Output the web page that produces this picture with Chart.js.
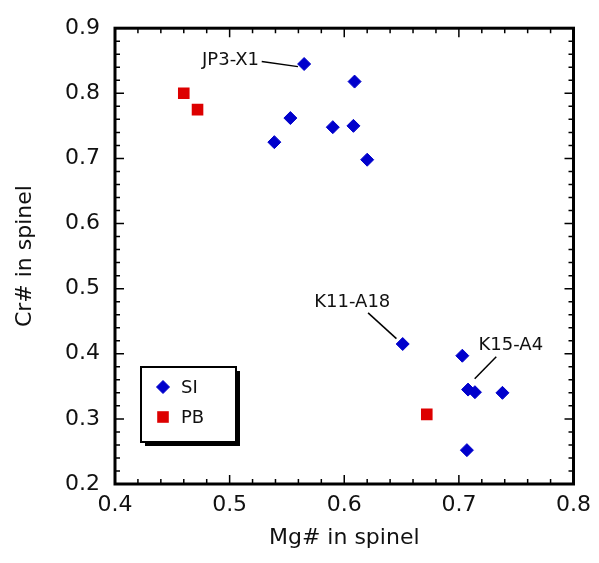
<!DOCTYPE html>
<html>
<head>
<meta charset="utf-8">
<script src="https://cdn.jsdelivr.net/npm/chart.js@4.4.1/dist/chart.umd.min.js"></script>
<style>
    html, body { margin: 0; padding: 0; background: #fff; }
    #contenedor { width: 599px; height: 563px; }
</style>
</head>
<body>
<div id="contenedor"><canvas id="grafico"></canvas></div>
<script>
// Datos: Mg# y Cr# en espinela
const siMg = [0.565, 0.609, 0.553, 0.539, 0.590, 0.608, 0.620, 0.651, 0.703, 0.708, 0.714, 0.738, 0.707];
const siCr = [0.845, 0.818, 0.762, 0.725, 0.748, 0.750, 0.698, 0.415, 0.397, 0.345, 0.341, 0.340, 0.252];
const pbMg = [0.460, 0.472, 0.672];
const pbCr = [0.800, 0.775, 0.307];

const nombresSeries = ['SI', 'PB'];
const tickX = [0.4, 0.5, 0.6, 0.7, 0.8];
const tickY = [0.2, 0.3, 0.4, 0.5, 0.6, 0.7, 0.8, 0.9];

// Etiquetas de muestras (posicion del texto y linea guia, en unidades de datos)
const etiquetas = ['JP3-X1', 'K11-A18', 'K15-A4'];
const etiquetaX = [0.5008, 0.607, 0.7453];
const etiquetaY = [0.8503, 0.479, 0.4122];
const lineaX1 = [0.528, 0.6208, 0.7326];
const lineaY1 = [0.849, 0.4628, 0.3955];
const lineaX2 = [0.5596, 0.6455, 0.7138];
const lineaY2 = [0.841, 0.4233, 0.3616];

const AZUL = '#0000cc';
const ROJO = '#dd0000';
const FUENTE = "'DejaVu Sans', Verdana, sans-serif";

// Marco, marcas interiores, etiquetas y leyenda
const marcoPlugin = {
    id: 'marco',
    afterDatasetsDraw(chart) {
        const ctx = chart.ctx;
        const sx = chart.scales.x;
        const sy = chart.scales.y;
        const area = chart.chartArea;

        ctx.save();
        // Etiquetas con lineas guia
        ctx.strokeStyle = '#000';
        ctx.lineWidth = 1.5;
        ctx.fillStyle = '#111';
        ctx.font = '18px ' + FUENTE;
        ctx.textAlign = 'center';
        ctx.textBaseline = 'middle';
        for (let i = 0; i < etiquetas.length; i++) {
            ctx.beginPath();
            ctx.moveTo(sx.getPixelForValue(lineaX1[i]), sy.getPixelForValue(lineaY1[i]));
            ctx.lineTo(sx.getPixelForValue(lineaX2[i]), sy.getPixelForValue(lineaY2[i]));
            ctx.stroke();
            ctx.fillText(etiquetas[i], sx.getPixelForValue(etiquetaX[i]), sy.getPixelForValue(etiquetaY[i]));
        }

        // Leyenda con sombra
        const lx = area.left + 26;
        const ly = area.bottom - 117;
        const lw = 95;
        const lh = 75;
        ctx.fillStyle = '#000';
        ctx.fillRect(lx + 4, ly + 4, lw, lh);
        ctx.fillStyle = '#fff';
        ctx.fillRect(lx, ly, lw, lh);
        ctx.lineWidth = 2;
        ctx.strokeStyle = '#000';
        ctx.strokeRect(lx, ly, lw, lh);

        ctx.font = '18px ' + FUENTE;
        ctx.textAlign = 'left';
        ctx.textBaseline = 'middle';
        chart.data.datasets.forEach((ds, i) => {
            const cy = ly + 20 + i * 30;
            ctx.fillStyle = ds.backgroundColor;
            ctx.strokeStyle = ds.borderColor;
            ctx.lineWidth = 1;
            Chart.helpers.drawPoint(ctx, {
                pointStyle: ds.pointStyle,
                radius: ds.pointRadius,
                borderWidth: ds.borderWidth
            }, lx + 22, cy);
            ctx.fillStyle = '#111';
            ctx.fillText(nombresSeries[i], lx + 40, cy + 1);
        });
        ctx.restore();
    },
    afterDraw(chart) {
        const ctx = chart.ctx;
        const sx = chart.scales.x;
        const sy = chart.scales.y;
        const area = chart.chartArea;

        ctx.save();
        ctx.strokeStyle = '#000';
        ctx.lineWidth = 1.5;
        ctx.beginPath();
        // Marcas en x (mayores cada 0.1, menores cada 0.02)
        for (let i = 0; i <= 20; i++) {
            const px = sx.getPixelForValue(0.4 + i * 0.02);
            const largo = i % 5 === 0 ? 9 : 5;
            ctx.moveTo(px, area.bottom);
            ctx.lineTo(px, area.bottom - largo);
            ctx.moveTo(px, area.top);
            ctx.lineTo(px, area.top + largo);
        }
        // Marcas en y
        for (let i = 0; i <= 35; i++) {
            const py = sy.getPixelForValue(0.2 + i * 0.02);
            const largo = i % 5 === 0 ? 9 : 5;
            ctx.moveTo(area.left, py);
            ctx.lineTo(area.left + largo, py);
            ctx.moveTo(area.right, py);
            ctx.lineTo(area.right - largo, py);
        }
        ctx.stroke();

        ctx.lineWidth = 3;
        ctx.strokeRect(area.left, area.top, area.right - area.left, area.bottom - area.top);
        ctx.restore();
    }
};

const ctx = document.getElementById('grafico').getContext('2d');

new Chart(ctx, {
    type: 'scatter',
    data: {
        datasets: [
            {
                label: nombresSeries[0],
                data: siMg.map((x, i) => ({ x, y: siCr[i] })),
                pointStyle: 'rectRot',
                pointRadius: 6.5,
                borderWidth: 1,
                backgroundColor: AZUL,
                borderColor: AZUL
            },
            {
                label: nombresSeries[1],
                data: pbMg.map((x, i) => ({ x, y: pbCr[i] })),
                pointStyle: 'rect',
                pointRadius: 8.2,
                borderWidth: 0,
                backgroundColor: ROJO,
                borderColor: ROJO
            }
        ]
    },
    options: {
        responsive: true,
        maintainAspectRatio: false,
        animation: false,
        layout: { padding: { top: 24, right: 21, left: 0, bottom: 0 } },
        plugins: {
            legend: { display: false },
            tooltip: { enabled: false }
        },
        scales: {
            x: {
                type: 'linear',
                min: 0.4,
                max: 0.8,
                afterFit: (scale) => { scale.height = 79; },
                afterBuildTicks: (scale) => { scale.ticks = tickX.map(v => ({ value: v })); },
                grid: { display: false, drawTicks: false },
                border: { display: false },
                ticks: {
                    padding: 8,
                    color: '#111',
                    font: { family: FUENTE, size: 22 },
                    callback: v => v.toFixed(1)
                },
                title: {
                    display: true,
                    text: 'Mg# in spinel',
                    color: '#111',
                    font: { family: FUENTE, size: 22 },
                    padding: { top: 0, bottom: 12 }
                }
            },
            y: {
                type: 'linear',
                min: 0.2,
                max: 0.9,
                afterFit: (scale) => { scale.width = 115; },
                afterBuildTicks: (scale) => { scale.ticks = tickY.map(v => ({ value: v })); },
                grid: { display: false, drawTicks: false },
                border: { display: false },
                ticks: {
                    padding: 15,
                    color: '#111',
                    font: { family: FUENTE, size: 22 },
                    callback: v => v.toFixed(1)
                },
                title: {
                    display: true,
                    text: 'Cr# in spinel',
                    color: '#111',
                    font: { family: FUENTE, size: 22 },
                    padding: { top: 12, bottom: 0 }
                }
            }
        }
    },
    plugins: [marcoPlugin]
});
</script>
</body>
</html>
